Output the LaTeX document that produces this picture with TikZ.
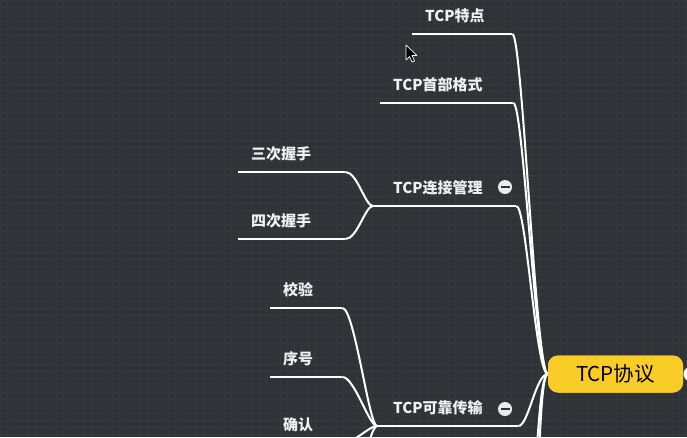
\documentclass[tikz,border=0pt]{standalone}
\usepackage{fontspec}
\newfontfamily\cjk{Noto Sans CJK SC}
\definecolor{mapbg}{RGB}{47,51,55}
\definecolor{rootyellow}{RGB}{250,204,40}

\begin{document}
\begin{tikzpicture}[x=1pt, y=-1pt,
    topic/.style={text width=#1, inner xsep=13pt, inner ysep=12pt, text depth=0pt, anchor=south west, text=white!94!black, font=\cjk\fontsize{15}{18}\selectfont\bfseries},
    rootnode/.style={rounded corners=10pt, fill=rootyellow, minimum width=135pt, minimum height=37pt, inner sep=0pt, font=\cjk\fontsize{20.5}{24}\selectfont},
    minusnode/.style={circle, fill=white!92!black, minimum size=14pt, inner sep=0pt, path picture={\draw[mapbg, line width=1.8pt] ([xshift=-4.5pt]path picture bounding box.center) -- ([xshift=4.5pt]path picture bounding box.center);}},
    maplink/.style={white, line width=2pt},
    branch/.style={maplink, to path={.. controls +(10,0) and +(-12,0) .. (\tikztotarget)}},
    sub/.style={maplink, to path={.. controls +(12,0) and +(-8,0) .. (\tikztotarget)}}
    ]
    \useasboundingbox (0,0) rectangle (687,437);
    \clip (0,0) rectangle (687,437);
    \fill[mapbg] (0,0) rectangle (687,437);
    \draw[step=7pt, mapbg!97!white, line width=0.4pt] (0,0) grid (687,437);

    \node[topic=74pt] (a1) at (412,34) {TCP特点};
    \node[topic=107pt] (a2) at (380,103) {TCP首部格式};
    \node[topic=103pt, inner xsep=20pt] (a3) at (373,206) {TCP连接管理};
    \node[topic=109pt, inner xsep=16pt] (a4) at (377,426) {TCP可靠传输};

    \node[topic=81pt] (b1) at (238,172) {三次握手};
    \node[topic=81pt] (b2) at (238,239) {四次握手};
    \node[topic=46pt] (b3) at (270,308) {校验};
    \node[topic=46pt] (b4) at (270,377) {序号};
    \node[topic=46pt] (b5) at (270,443) {确认};

    % below the visible part
    \coordinate (c1) at (342,512);
    \coordinate (c2) at (525,560);
    \coordinate (c3) at (529,620);

    \foreach \n in {a1,a2,a3,a4,b1,b2,b3,b4,b5}
        \draw[maplink] (\n.south west) -- (\n.south east);

    \node[rootnode] (r) at (615.5,374) {};

    \draw[branch] (a1.south east) to (r.west);
    \draw[branch] (a2.south east) to (r.west);
    \draw[branch] (a3.south east) to (r.west);
    \draw[branch] (a4.south east) to (r.west);
    \draw[branch] (c2) to (r.west);
    \draw[branch] (c3) to (r.west);

    \draw[sub] (b1.south east) to (a3.south west);
    \draw[sub] (b2.south east) to (a3.south west);
    \draw[sub] (b3.south east) to (a4.south west);
    \draw[sub] (b4.south east) to (a4.south west);
    \draw[sub] (b5.south east) to (a4.south west);
    \draw[sub] (c1) to (a4.south west);

    \node[rootnode] (r) at (615.5,374) {TCP协议};
    \node[circle, draw=black!40, fill=white, minimum size=15pt, inner sep=0pt] (rt) at (691,374) {};

    \node[minusnode] (m3) at (505,187) {};
    \node[minusnode] (m4) at (505,409) {};

    % mouse pointer
    \draw[white, fill=black, line width=0.7pt, line join=round] (406,45) -- (406,60) -- (409.5,56.5) -- (412,62) -- (414.5,61) -- (412,55.5) -- (417,55.5) -- cycle;
\end{tikzpicture}
\end{document}
